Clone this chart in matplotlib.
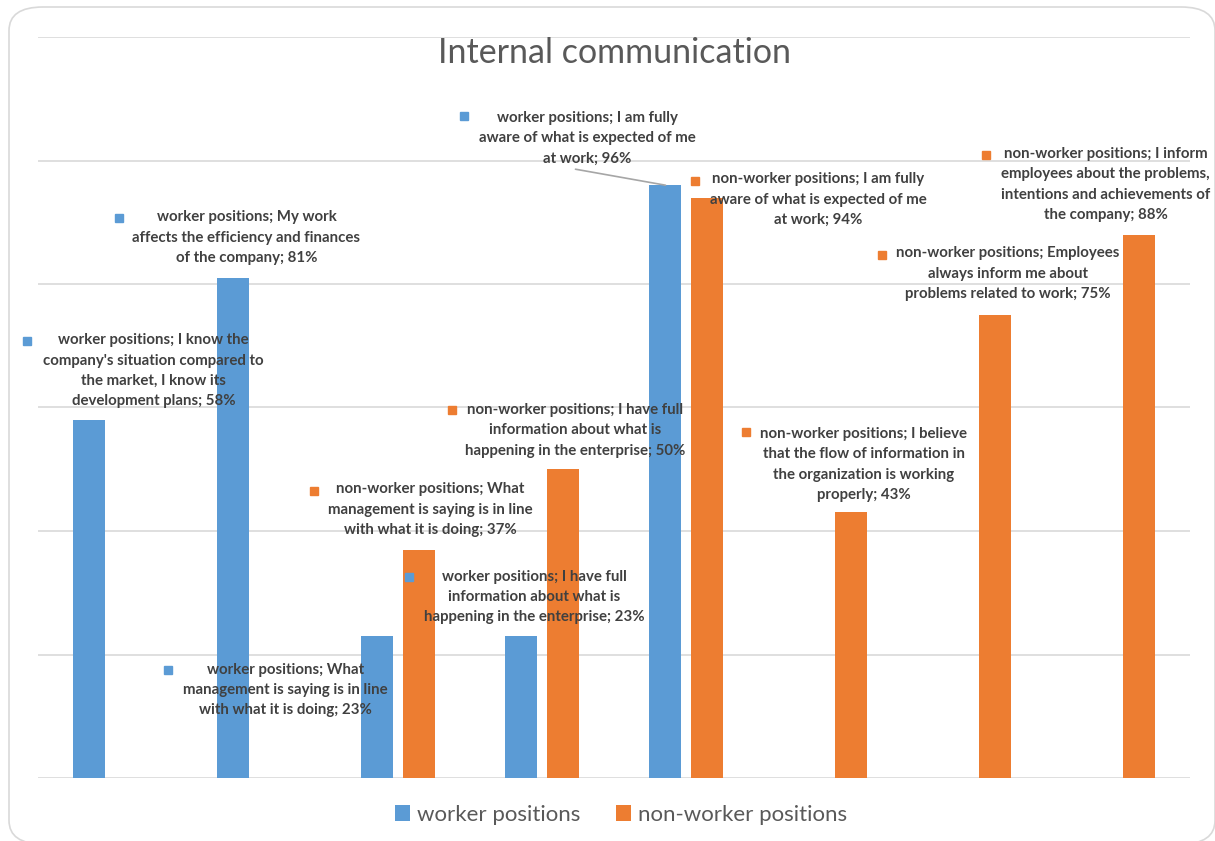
import numpy as np
import matplotlib
matplotlib.use("Agg")
import matplotlib.pyplot as plt
from matplotlib.patches import FancyBboxPatch, Patch
from matplotlib.transforms import offset_copy

plt.rcParams["font.family"] = ["Lato", "DejaVu Sans"]

# data
statements = [
    "I know the company's situation compared to the market, I know its development plans",
    "My work affects the efficiency and finances of the company",
    "What management is saying is in line with what it is doing",
    "I have full information about what is happening in the enterprise",
    "I am fully aware of what is expected of me at work",
    "I believe that the flow of information in the organization is working properly",
    "Employees always inform me about problems related to work",
    "I inform employees about the problems, intentions and achievements of the company",
]
series_names = ["worker positions", "non-worker positions"]
worker = [58, 81, 23, 23, 96, np.nan, np.nan, np.nan]
non_worker = [np.nan, np.nan, 37, 50, 94, 43, 75, 88]

BLUE = "#5B9BD5"
ORANGE = "#ED7D31"
LABEL_C = "#404040"

# label layout: (series idx, category, words per line, text dx/dy, key dx/dy) in pixels
label_layout = [
    (0, 0, (5, 4, 5, 3), 64, 49, -62, 79),
    (0, 1, (4, 5, 4), 13, 40, -114, 60),
    (0, 2, (3, 6, 6), -92, -54, -209, -34),
    (1, 2, (3, 6, 6), 12, 40, -105, 59),
    (0, 3, (5, 4, 5), 13, 39, -112, 59),
    (1, 3, (5, 4, 5), 13, 39, -111, 59),
    (0, 4, (5, 7, 3), -78, 47, -201, 69),
    (1, 4, (5, 7, 3), 112, -2, -12, 17),
    (1, 5, (4, 6, 4, 2), 13, 48, -105, 80),
    (1, 6, (3, 4, 5), 13, 41, -113, 60),
    (1, 7, (4, 4, 4, 3), -33, 50, -153, 80),
]


def split_words(text, counts):
    words = text.split()
    lines, i = [], 0
    for n in counts:
        lines.append(" ".join(words[i:i + n]))
        i += n
    return "\n".join(lines)


W, H = 1215, 841
fig = plt.figure(figsize=(W / 100, H / 100), dpi=100)
ax = fig.add_axes([38 / W, (H - 778) / H, 1152 / W, 741 / H])

# rounded frame of the chart
frame = FancyBboxPatch((9 / W, -3 / H), 1206 / W, 837 / H,
                       boxstyle="round,pad=0,rounding_size=0.028",
                       transform=fig.transFigure, facecolor="none",
                       edgecolor="#D9D9D9", linewidth=1.2, clip_on=False)
fig.patches.append(frame)

x = np.arange(len(statements))
bw = 0.222
off = 0.1425
series_vals = [np.array(worker) / 100, np.array(non_worker) / 100]
colors = [BLUE, ORANGE]
offsets = [-off, off]

for vals, c, o in zip(series_vals, colors, offsets):
    m = ~np.isnan(vals)
    ax.bar(x[m] + o, vals[m], width=bw, color=c, zorder=3)

ax.set_xlim(-0.5, len(statements) - 0.5)
ax.set_ylim(0, 1.2)
ax.set_yticks(np.arange(0, 1.21, 0.2))
ax.yaxis.grid(True, color="#D9D9D9", linewidth=1.2, zorder=0)
ax.set_xticks([])
ax.tick_params(left=False, labelleft=False)
for s in ax.spines.values():
    s.set_visible(False)

for si, ci, counts, dx, dy, kdx, kdy in label_layout:
    v = series_vals[si][ci]
    bx = x[ci] + offsets[si]
    txt = f"{series_names[si]}; {statements[ci]}; {v * 100:.0f}%"
    ax.annotate(split_words(txt, counts), xy=(bx, v), xytext=(dx, dy),
                textcoords="offset pixels", ha="center", va="center",
                fontsize=10.8, fontweight="bold", color=LABEL_C,
                linespacing=1.58, zorder=5, annotation_clip=False)
    tr = offset_copy(ax.transData, fig=fig, x=kdx, y=kdy, units="dots")
    ax.plot([bx], [v], marker="s", markersize=6.3, color=colors[si],
            transform=tr, clip_on=False, zorder=5)

# leader line for the 96% label
ax.annotate("", xy=(x[4] - off, worker[4] / 100), xytext=(-90, 16),
            textcoords="offset pixels",
            arrowprops=dict(arrowstyle="-", color="#A6A6A6", lw=1.2,
                            shrinkA=0, shrinkB=0))

fig.text(614 / W, 1 - 53 / H, "Internal communication", ha="center", va="center",
         fontsize=24.5, color="#595959")

handles = [Patch(facecolor=c, edgecolor="none") for c in colors]
fig.legend(handles, series_names, loc="center", bbox_to_anchor=(621 / W, 1 - 815 / H),
           ncol=2, frameon=False, fontsize=16, labelcolor="#595959",
           handlelength=0.7, handleheight=0.7, handletextpad=0.3, columnspacing=1.6)

fig.savefig("out.png", dpi=100)
